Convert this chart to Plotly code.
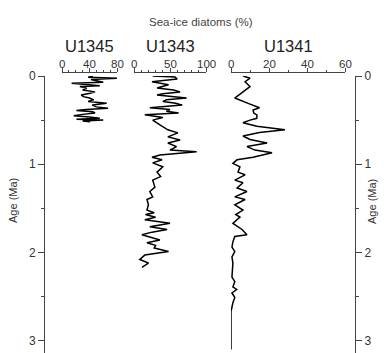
import plotly.graph_objects as go

# ---- data (Age in Ma, value in % sea-ice diatoms) ----
u1345_age = [0.0, 0.015, 0.026, 0.04, 0.053, 0.07, 0.083, 0.1, 0.11, 0.12, 0.14, 0.16, 0.18,
             0.196, 0.215, 0.234, 0.25, 0.27, 0.29, 0.31, 0.33, 0.35, 0.366, 0.38, 0.39,
             0.405, 0.42, 0.435, 0.45, 0.465, 0.48, 0.49, 0.50, 0.51, 0.52]
u1345_val = [45, 38, 80, 42, 50, 60, 14, 41, 55, 26, 36, 30, 48,
             41, 28, 31, 40, 46, 38, 65, 44, 50, 67, 35, 21,
             45, 48, 30, 17, 40, 55, 21, 60, 30, 41]

u1343_age = [0.0, 0.01, 0.035, 0.065, 0.1, 0.136, 0.16, 0.18, 0.2, 0.215, 0.25, 0.27, 0.29,
             0.31, 0.33, 0.36, 0.38, 0.40, 0.42, 0.44, 0.47, 0.5, 0.555, 0.61, 0.645,
             0.69, 0.725, 0.76, 0.80, 0.84, 0.86, 0.895, 0.92, 0.95, 0.985, 1.03, 1.09,
             1.14, 1.18, 1.26, 1.31, 1.37, 1.40, 1.46, 1.52, 1.55, 1.57, 1.6, 1.63,
             1.67, 1.71, 1.74, 1.77, 1.80, 1.86, 1.89, 1.92, 1.95, 1.99, 2.03, 2.08,
             2.12, 2.17]
u1343_val = [26, 57, 60, 25, 48, 32, 55, 64, 40, 32, 73, 45, 40,
             58, 67, 22, 50, 45, 62, 15, 40, 26, 36, 47, 61,
             47, 64, 47, 59, 50, 87, 36, 25, 39, 26, 40, 32,
             37, 26, 29, 22, 26, 18, 20, 18, 28, 16, 30, 15,
             50, 22, 46, 25, 11, 36, 18, 30, 28, 48, 15, 8,
             20, 11]

u1341_age = [0.0, 0.025, 0.065, 0.12, 0.18, 0.25, 0.31, 0.36, 0.385, 0.42, 0.44, 0.48, 0.50,
             0.53, 0.57, 0.61, 0.64, 0.68, 0.72, 0.76, 0.80, 0.84, 0.87, 0.92, 0.95,
             0.99, 1.03, 1.09, 1.12, 1.18, 1.21, 1.27, 1.31, 1.37, 1.40, 1.46, 1.52,
             1.57, 1.6, 1.67, 1.74, 1.80, 1.82, 1.88, 1.94, 1.99, 2.05, 2.12, 2.28,
             2.33, 2.39, 2.42, 2.46, 2.51, 2.57, 2.63, 2.67, 3.1]
u1341_val = [6.3, 10, 7.4, 10, 6.3, 2, 9, 15, 11.6, 12, 13.6, 13.6, 10,
             6.3, 13.6, 28.4, 15, 6.3, 10, 19, 8.4, 12.6, 21.6, 11.6, 3.2,
             1, 4.7, 3.7, 7.4, 2, 6.3, 3.2, 8.4, 2, 7.4, 2, 6.3,
             2.5, 4.7, 1, 5.8, 8.4, 2, 1, 0.5, 2, 0.5, 1, 0.5,
             2, 1, 3, 0.5, 2, 1, 0.5, 0, 0]

titles = ["U1345", "U1343", "U1341"]
xranges = [[0, 80], [0, 100], [0, 60]]
xtickvals = [[0, 40, 80], [0, 50, 100], [0, 20, 40, 60]]
age_ticks = [0, 1, 2, 3]

# ---- layout geometry ----
W, H = 384, 353
ML, MR, MT, MB = 44, 29, 72, 0
PW = W - ML - MR
PH = H - MT - MB
def px_x(p):
    return (p - ML) / PW
def px_y(p):
    return 1 + (MT - p) / PH

domains = [[px_x(62), px_x(117)], [px_x(134), px_x(206)], [px_x(231), px_x(345)]]
font = "Liberation Sans, Arial, sans-serif"
axcol = "#444444"

fig = go.Figure()
series = [(u1345_val, u1345_age), (u1343_val, u1343_age), (u1341_val, u1341_age)]
for i, (v, a) in enumerate(series):
    fig.add_trace(go.Scatter(x=v, y=a, mode="lines",
                             line=dict(color="black", width=1.5),
                             xaxis="x" if i == 0 else f"x{i+1}", yaxis="y",
                             showlegend=False, hoverinfo="skip"))

yrange = [3.14, 0]
ydom = [0, (H - 76) / PH]
common_y = dict(range=yrange, domain=ydom, anchor="free", showline=True, linecolor=axcol,
                linewidth=1, ticks="outside", ticklen=6, tickcolor=axcol,
                tickvals=age_ticks, showgrid=False, zeroline=False,
                tickfont=dict(family=font, size=12, color="#333"),
                minor=dict(dtick=0.5, ticks="outside", ticklen=3, tickcolor=axcol, showgrid=False))
layout = dict(
    width=W, height=H, margin=dict(l=ML, r=MR, t=MT, b=MB),
    paper_bgcolor="white", plot_bgcolor="white",
    yaxis=dict(position=0, side="left", **common_y),
    yaxis2=dict(position=1, side="right", overlaying="y", **common_y),
)
for i in range(3):
    key = "xaxis" if i == 0 else f"xaxis{i+1}"
    layout[key] = dict(domain=domains[i], range=xranges[i], side="top", anchor="free",
                       position=1, showline=True, linecolor=axcol, linewidth=1,
                       ticks="outside", ticklen=4, tickcolor=axcol, tickvals=xtickvals[i],
                       showticklabels=False, showgrid=False, zeroline=False,
                       minor=dict(dtick=10, ticks="outside", ticklen=2, tickcolor=axcol, showgrid=False))
fig.update_layout(**layout)
# dummy trace so yaxis2 renders
fig.add_trace(go.Scatter(x=[None], y=[None], xaxis="x", yaxis="y2", showlegend=False))

# top tick labels placed via each axis' own scale
for i in range(3):
    xr = "x" if i == 0 else f"x{i+1}"
    for v in xtickvals[i]:
        fig.add_annotation(text=str(v), xref=xr, yref="paper", x=v, y=px_y(63.5),
                           xanchor="center", yanchor="middle", showarrow=False,
                           borderpad=0, font=dict(family=font, size=11.5, color="#333"))

for i, t in enumerate(titles):
    fig.add_annotation(text=t, xref="paper", yref="paper",
                       x=(domains[i][0] + domains[i][1]) / 2, y=px_y(46.5),
                       xanchor="center", yanchor="middle", showarrow=False,
                       borderpad=0, font=dict(family=font, size=16.5, color="#222"))
fig.add_annotation(text="Sea-ice diatoms (%)", xref="paper", yref="paper",
                   x=px_x(201), y=px_y(22), xanchor="center", yanchor="middle",
                   showarrow=False, font=dict(family=font, size=11.5, color="#444"))
for xp in (13, 372):
    fig.add_annotation(text="Age (Ma)", xref="paper", yref="paper",
                       x=px_x(xp), y=px_y(201), xanchor="center", yanchor="middle",
                       textangle=-90, showarrow=False,
                       font=dict(family=font, size=11, color="#333"))

fig.write_html("out.html")
